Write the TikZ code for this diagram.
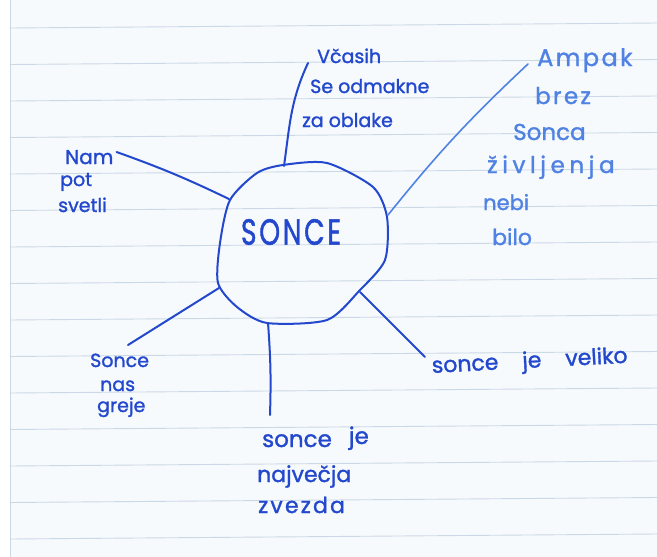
\documentclass[tikz,border=0pt]{standalone}
\usepackage{fontspec}
\newfontfamily\hand[FakeBold=1.4]{Poppins}
\newfontfamily\handwide[FakeBold=1.4,LetterSpace=10]{Poppins}
\newfontfamily\handwider[FakeBold=1.4,LetterSpace=20]{Poppins}
\definecolor{ink}{RGB}{35,72,205}
\definecolor{paleink}{RGB}{80,130,228}
\definecolor{paper}{RGB}{246,250,253}
\definecolor{rule}{RGB}{203,216,230}

\begin{document}
\begin{tikzpicture}[x=1pt, y=-1pt, line cap=round, line join=round]
\tikzset{
  word/.style={anchor=base west, inner sep=0pt, text=ink, font=\hand\fontsize{19}{22}\selectfont},
  paleword/.style={word, text=paleink, font=\hand\fontsize{23}{26}\selectfont},
  spoke/.style={draw=ink, line width=2pt}
}

% Paper
\useasboundingbox (0,0) rectangle (657,557);
\fill[white] (0,0) rectangle (657,557);
\fill[paper] (10,0) rectangle (657,557);
\draw[rule, line width=0.6pt] (10,0) -- (10,557);
\foreach \y in {28,64.5,...,540}
  \draw[rule, line width=0.9pt] (10,\y) -- (657,\y-5);

% Sun in the middle
\draw[ink, line width=2pt] plot[smooth cycle, tension=0.45] coordinates {(283,165) (327,163) (373,187) (387,217) (385,260) (360,290) (327,320) (267,323) (237,307) (218,283) (220,243) (230,200) (257,173)};
\node[text=ink, font=\handwide\fontsize{28}{30}\selectfont] (sonce) at (291,232) {\scalebox{0.95}[1.3]{SONCE}};

\coordinate (bTop) at (284,166);
\coordinate (bNE)  at (388,215);
\coordinate (bW)   at (229,199);
\coordinate (bSW)  at (219,288);
\coordinate (bS)   at (268,323);
\coordinate (bSE)  at (360,292);

% Texts
\node[word] (vcasih)  at (317,63)  {Včasih};
\node[word] (odmakne) at (310,93)  {Se odmakne};
\node[word] (oblake)  at (302,127) {za oblake};

\node[paleword, font=\handwide\fontsize{24}{26}\selectfont] (ampak) at (537,66) {Ampak};
\node[paleword, font=\handwide\fontsize{23}{26}\selectfont] (brez)  at (535,104) {brez};
\node[paleword] (sonca)    at (513,140) {Sonca};
\node[paleword, font=\handwider\fontsize{23}{26}\selectfont] (zivljenja) at (487,173) {življenja};
\node[paleword, font=\hand\fontsize{21}{26}\selectfont] (nebi) at (483,210) {nebi};
\node[paleword, font=\hand\fontsize{22}{26}\selectfont] (bilo) at (492,245) {bilo};

\node[word, font=\hand\fontsize{20}{22}\selectfont] (nam) at (65,164) {Nam};
\node[word] (pot)    at (60,186) {pot};
\node[word] (svetli) at (58,212) {svetli};

\node[word] (sonceA) at (90,367)  {Sonce};
\node[word] (nas)    at (100,391) {nas};
\node[word] (greje)  at (97,412)  {greje};

\node[word, font=\hand\fontsize{23}{26}\selectfont] (sonceB) at (262,447) {sonce\hspace{17pt}\raisebox{3pt}{je}};
\node[word, font=\hand\fontsize{22}{26}\selectfont] (najvecja) at (257,482) {največja};
\node[word, font=\handwide\fontsize{22}{26}\selectfont] (zvezda) at (258,513) {zvezda};

\node[word, font=\hand\fontsize{22}{24}\selectfont, rotate=3] (veliko) at (432,373) {sonce\hspace{24pt}je\hspace{24pt}veliko};

% Spokes
\draw[spoke] (bTop) to[out=82,in=245] ([xshift=-9pt]vcasih.base west);
\draw[spoke, draw=paleink, line width=1.6pt] (bNE) to[bend left=4] ([xshift=-9pt,yshift=2pt]ampak.base west);
\draw[spoke] (bW) to[bend right=3] ([xshift=3pt,yshift=12pt]nam.base east);
\draw[spoke] (bSW) -- ([xshift=38pt,yshift=22pt]sonceA.base west);
\draw[spoke] (bS) to[bend left=3] ([xshift=8pt,yshift=32pt]sonceB.base west);
\draw[spoke] (bSE) -- ([xshift=-7pt,yshift=16pt]veliko.base west);

\end{tikzpicture}
\end{document}
